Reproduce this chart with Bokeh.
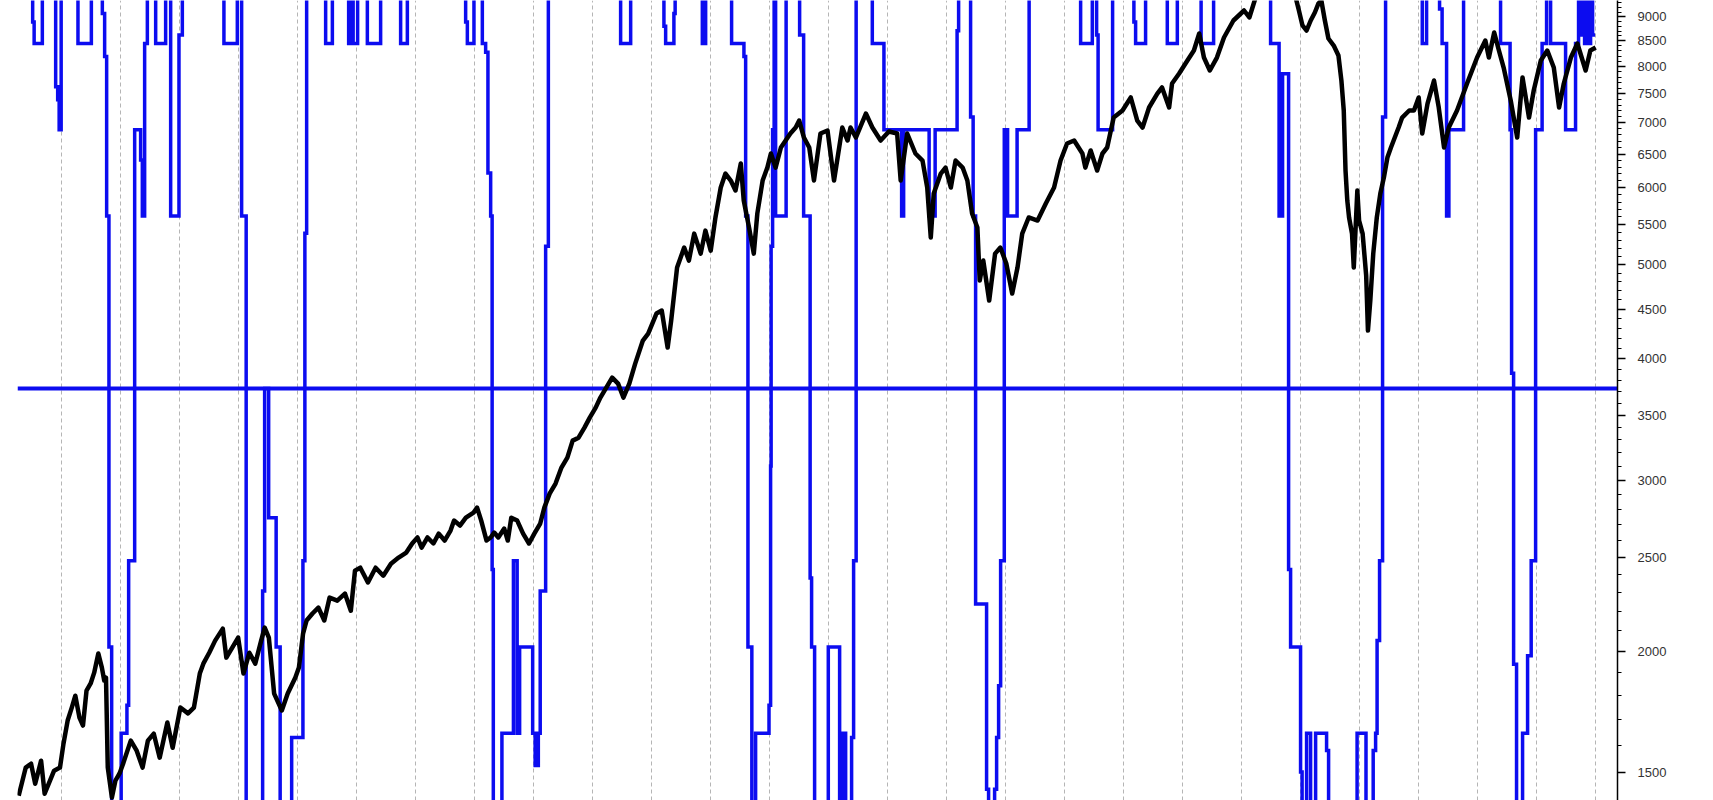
from bokeh.plotting import figure
from bokeh.models import Range1d, FixedTicker, Span, Grid, LinearScale, PrintfTickFormatter
from bokeh.embed import file_html
from bokeh.resources import INLINE

# ---------------- data ----------------
grid_years = list(range(1987, 2014))

y_major = [1500, 2000, 2500, 3000, 3500, 4000, 4500, 5000, 5500, 6000, 6500, 7000, 7500, 8000, 8500, 9000]
y_minor = [v for v in range(1500, 9400, 100) if v not in y_major]

# price index (black, log scale)
px_year = [
    1986.28, 1986.40, 1986.49, 1986.56, 1986.66, 1986.72, 1986.79, 1986.88, 1986.98, 1987.04,
    1987.11, 1987.18, 1987.24, 1987.31, 1987.37, 1987.43, 1987.50, 1987.56, 1987.63, 1987.69,
    1987.73, 1987.76, 1987.79, 1987.86, 1987.92, 1987.99, 1988.05, 1988.18, 1988.28, 1988.38,
    1988.47, 1988.57, 1988.67, 1988.80, 1988.89, 1989.02, 1989.15, 1989.25, 1989.35, 1989.41,
    1989.51, 1989.61, 1989.74, 1989.80, 1989.90, 1990.00, 1990.09, 1990.19, 1990.29, 1990.39,
    1990.45, 1990.52, 1990.61, 1990.74, 1990.84, 1990.97, 1991.03, 1991.10, 1991.16, 1991.26,
    1991.36, 1991.46, 1991.55, 1991.68, 1991.81, 1991.91, 1991.98, 1992.07, 1992.20, 1992.33,
    1992.46, 1992.59, 1992.72, 1992.85, 1992.95, 1993.04, 1993.11, 1993.21, 1993.31, 1993.40,
    1993.50, 1993.60, 1993.66, 1993.76, 1993.86, 1993.99, 1994.05, 1994.12, 1994.21, 1994.28,
    1994.34, 1994.41, 1994.51, 1994.57, 1994.63, 1994.73, 1994.83, 1994.93, 1995.02, 1995.12,
    1995.19, 1995.28, 1995.38, 1995.48, 1995.58, 1995.67, 1995.77, 1995.87, 1995.96, 1996.06,
    1996.14, 1996.34, 1996.44, 1996.53, 1996.63, 1996.73, 1996.86, 1996.95, 1997.09, 1997.18,
    1997.28, 1997.34, 1997.44, 1997.56, 1997.64, 1997.73, 1997.84, 1997.92, 1998.01, 1998.09,
    1998.18, 1998.26, 1998.35, 1998.43, 1998.52, 1998.57, 1998.66, 1998.74, 1998.80, 1998.89,
    1998.97, 1999.03, 1999.11, 1999.20, 1999.28, 1999.36, 1999.45, 1999.51, 1999.59, 1999.68,
    1999.76, 1999.87, 1999.99, 2000.10, 2000.24, 2000.33, 2000.38, 2000.47, 2000.64, 2000.75,
    2000.89, 2001.03, 2001.17, 2001.23, 2001.34, 2001.48, 2001.60, 2001.68, 2001.74, 2001.79,
    2001.91, 2001.99, 2002.08, 2002.16, 2002.28, 2002.36, 2002.44, 2002.53, 2002.57, 2002.63,
    2002.73, 2002.83, 2002.92, 2003.02, 2003.12, 2003.21, 2003.29, 2003.40, 2003.55, 2003.69,
    2003.83, 2003.94, 2004.05, 2004.17, 2004.31, 2004.36, 2004.45, 2004.56, 2004.65, 2004.73,
    2004.84, 2004.99, 2005.13, 2005.24, 2005.33, 2005.44, 2005.58, 2005.66, 2005.78, 2005.83,
    2005.95, 2006.09, 2006.20, 2006.29, 2006.37, 2006.47, 2006.59, 2006.71, 2006.87, 2007.05,
    2007.14, 2007.23, 2007.30, 2007.59, 2007.91, 2007.98, 2008.04, 2008.11, 2008.18, 2008.25,
    2008.31, 2008.36, 2008.42, 2008.48, 2008.57, 2008.65, 2008.70, 2008.74, 2008.77, 2008.80,
    2008.83, 2008.88, 2008.91, 2008.97, 2009.00, 2009.06, 2009.12, 2009.15, 2009.19, 2009.24,
    2009.30, 2009.36, 2009.42, 2009.48, 2009.54, 2009.67, 2009.73, 2009.85, 2009.93, 2010.01,
    2010.07, 2010.16, 2010.27, 2010.35, 2010.44, 2010.52, 2010.66, 2010.83, 2011.00, 2011.14,
    2011.20, 2011.29, 2011.37, 2011.45, 2011.57, 2011.68, 2011.77, 2011.88, 2011.96, 2012.08,
    2012.19, 2012.30, 2012.39, 2012.47, 2012.59, 2012.70, 2012.84, 2012.92, 2013.01,
]
px_value = [
    1420, 1518, 1532, 1461, 1543, 1427, 1461, 1507, 1518, 1607,
    1697, 1750, 1800, 1709, 1677, 1822, 1853, 1901, 1989, 1924,
    1866, 1879, 1518, 1414, 1472, 1497, 1532, 1618, 1580, 1518,
    1618, 1645, 1554, 1689, 1591, 1750, 1726, 1750, 1897, 1942,
    1993, 2051, 2110, 1970, 2017, 2066, 1897, 1993, 1942, 2051,
    2115, 2066, 1809, 1738, 1809, 1879, 1924, 2085, 2151, 2187,
    2218, 2151, 2271, 2255, 2293, 2202, 2421, 2438, 2354, 2438,
    2392, 2461, 2497, 2527, 2582, 2619, 2557, 2619, 2582, 2643,
    2600, 2662, 2726, 2694, 2745, 2778, 2811, 2726, 2600, 2619,
    2650, 2619, 2675, 2600, 2745, 2726, 2643, 2582, 2643, 2707,
    2811, 2906, 2976, 3091, 3165, 3295, 3318, 3398, 3480, 3563,
    3649, 3826, 3772, 3649, 3772, 3955, 4177, 4247, 4453, 4485,
    4108, 4380, 4966, 5207, 5049, 5382, 5133, 5421, 5170, 5592,
    6004, 6206, 6104, 5961, 6355, 5821, 5460, 5133, 5645, 6104,
    6294, 6508, 6294, 6601, 6711, 6824, 6921, 7037, 6759, 6601,
    6104, 6824, 6872, 6104, 6921, 6711, 6921, 6759, 7155, 6921,
    6711, 6856, 6824, 6104, 6824, 6508, 6400, 6004, 5332, 5919,
    6206, 6294, 6004, 6400, 6294, 6104, 5645, 5460, 4815, 5049,
    4592, 5133, 5207, 5014, 4670, 4966, 5382, 5592, 5552, 5780,
    6004, 6400, 6664, 6711, 6508, 6294, 6554, 6250, 6508, 6601,
    7087, 7206, 7432, 7037, 6921, 7258, 7502, 7610, 7258, 7683,
    7867, 8113, 8307, 8650, 8170, 7923, 8170, 8568, 8920, 9134,
    8984, 9353, 9600, 9800, 9500, 9134, 8816, 8711, 8920, 9090,
    9285, 9353, 8920, 8547, 8406, 8210, 7737, 7206, 6250, 5821,
    5592, 5382, 4966, 5961, 5552, 5382, 4873, 4277, 4592, 5133,
    5592, 5919, 6147, 6446, 6601, 6921, 7087, 7206, 7206, 7432,
    6824, 7326, 7737, 7258, 6601, 6921, 7206, 7683, 8170, 8507,
    8170, 8670, 8307, 7979, 7379, 6759, 7793, 7087, 7556, 8113,
    8307, 7979, 7258, 7683, 8170, 8447, 7923, 8307, 8367,
]

# indicator (blue step line; 0 = reference level)
ind_year = [
    1986.263, 1986.517, 1986.542, 1986.681, 1986.907, 1986.941, 1986.966, 1987.000, 1987.285, 1987.512,
    1987.698, 1987.737, 1987.771, 1987.810, 1987.856, 1988.017, 1988.115, 1988.144, 1988.246, 1988.347,
    1988.376, 1988.415, 1988.461, 1988.602, 1988.771, 1988.856, 1988.997, 1989.054, 1989.759, 1989.986,
    1990.059, 1990.136, 1990.415, 1990.449, 1990.517, 1990.644, 1990.712, 1990.907, 1991.098, 1991.131,
    1991.161, 1991.483, 1991.597, 1991.873, 1991.924, 1991.949, 1992.025, 1992.190, 1992.415, 1992.754,
    1992.868, 1993.856, 1993.885, 1993.997, 1994.139, 1994.195, 1994.234, 1994.280, 1994.305, 1994.325,
    1994.471, 1994.666, 1994.729, 1994.771, 1994.992, 1995.034, 1995.088, 1995.120, 1995.212, 1995.258,
    1996.483, 1996.653, 1997.217, 1997.246, 1997.386, 1997.407, 1997.868, 1997.924, 1998.364, 1998.573,
    1998.602, 1998.641, 1998.707, 1998.771, 1998.998, 1999.025, 1999.034, 1999.059, 1999.085, 1999.110,
    1999.288, 1999.517, 1999.585, 1999.695, 1999.720, 1999.771, 2000.003, 2000.195, 2000.220, 2000.246,
    2000.271, 2000.297, 2000.398, 2000.432, 2000.475, 2000.749, 2000.946, 2001.246, 2001.280, 2001.712,
    2001.814, 2002.186, 2002.212, 2002.415, 2002.458, 2002.500, 2002.686, 2002.720, 2002.822, 2002.856,
    2002.890, 2002.924, 2002.986, 2003.042, 2003.203, 2003.407, 2004.280, 2004.478, 2004.551, 2004.576,
    2004.822, 2005.183, 2005.212, 2005.381, 2005.749, 2005.919, 2006.322, 2006.534, 2007.500, 2007.644,
    2007.703, 2007.805, 2007.839, 2008.008, 2008.034, 2008.110, 2008.178, 2008.263, 2008.449, 2008.483,
    2008.966, 2009.117, 2009.239, 2009.280, 2009.305, 2009.347, 2009.398, 2009.449, 2010.071, 2010.144,
    2010.364, 2010.407, 2010.483, 2010.522, 2010.771, 2011.398, 2011.559, 2011.585, 2011.619, 2011.669,
    2011.771, 2011.856, 2011.917, 2011.992, 2012.102, 2012.178, 2012.246, 2012.500, 2012.669, 2012.720,
    2012.754, 2012.788, 2012.822, 2012.856, 2012.890, 2012.924, 2012.958, 2013.000,
]
ind_level = [
    100, 85, 80, 100, 70, 67, 60, 100, 80, 100,
    87, 77, 40, -60, -100, -80, -73.5, -40, 60, 53,
    40, 80, 100, 80, 100, 40, 82, 100, 80, 100,
    40, -100, -47, 0, -30, -60, -100, -81, -40, 36,
    100, 80, 100, 80, 100, 80, 100, 80, 100, 80,
    100, 85, 80, 100, 80, 78, 50, 40, -42, -100,
    -80, -40, -80, -60, -80, -87.5, -80, -47, 33, 100,
    80, 100, 84, 80, 87, 100, 80, 100, 80, 77,
    40, -60, -100, -80, -73.5, -18, 33, 60, 100, 40,
    100, 82, 40, -44, -60, -100, -60, -100, -80, -100,
    -80, -100, -81, -40, 100, 80, 60, 40, 60, 40,
    60, 83, 100, 63, 40, -50, -93, -100, -93, -81,
    -69, -40, 60, 40, 60, 100, 80, 100, 82, 60,
    100, 85, 80, 100, 80, 100, 80, 100, 80, 40,
    73, -42, -60, -89, -100, -80, -100, -80, -84, -100,
    -80, -100, -84, -80, -58.5, -40, 63, 100, 80, 100,
    88, 80, 40, 60, 100, 80, 60, 3.5, -64, -100,
    -80, -62, -40, 60, 80, 100, 80, 60, 80, 100,
    82, 100, 80, 100, 80, 100, 82, 82,
]
ind_reference = 0

# ---------------- styles ----------------
BLUE = "#0c0cf0"

p = figure(
    frame_width=1600, frame_height=800,
    x_range=Range1d(1986.26, 2013.38),
    y_range=Range1d(1404, 9353),
    y_axis_type="log", y_axis_location="right", x_axis_location=None,
    output_backend="svg", toolbar_location=None,
    min_border_left=17, min_border_top=0, min_border_bottom=0, min_border_right=30,
    background_fill_color="white", border_fill_color="white",
)
p.outline_line_color = None
p.grid.visible = False

p.extra_y_ranges = {"ind": Range1d(-95.6, 90.0)}
p.extra_y_scales = {"ind": LinearScale()}

vgrid = Grid(dimension=0, ticker=FixedTicker(ticks=grid_years),
             grid_line_color="#b5b5b5", grid_line_width=1, grid_line_dash="4 3")
p.add_layout(vgrid)

ref = Span(location=ind_reference, dimension="width", y_range_name="ind",
           line_color=BLUE, line_width=4, level="underlay")
p.add_layout(ref)

p.step(ind_year, ind_level, mode="after", y_range_name="ind",
       line_color=BLUE, line_width=3.5, line_join="miter")

p.line(px_year, px_value, line_color="black", line_width=4.5, line_join="round")

ax = p.yaxis[0]
ax.ticker = FixedTicker(ticks=y_major, minor_ticks=y_minor)
ax.formatter = PrintfTickFormatter(format="%d")
ax.major_label_text_font = "Liberation Sans"
ax.major_label_text_font_size = "13px"
ax.major_label_text_color = "#333333"
ax.axis_line_color = "black"
ax.axis_line_width = 1.5
ax.major_tick_in = 0
ax.major_tick_out = 8
ax.minor_tick_in = 0
ax.minor_tick_out = 4
ax.major_tick_line_color = "black"
ax.major_tick_line_width = 1.5
ax.minor_tick_line_color = "black"
ax.minor_tick_line_width = 1.2
ax.major_label_standoff = 12

open("out.html", "w").write(file_html(p, INLINE))
